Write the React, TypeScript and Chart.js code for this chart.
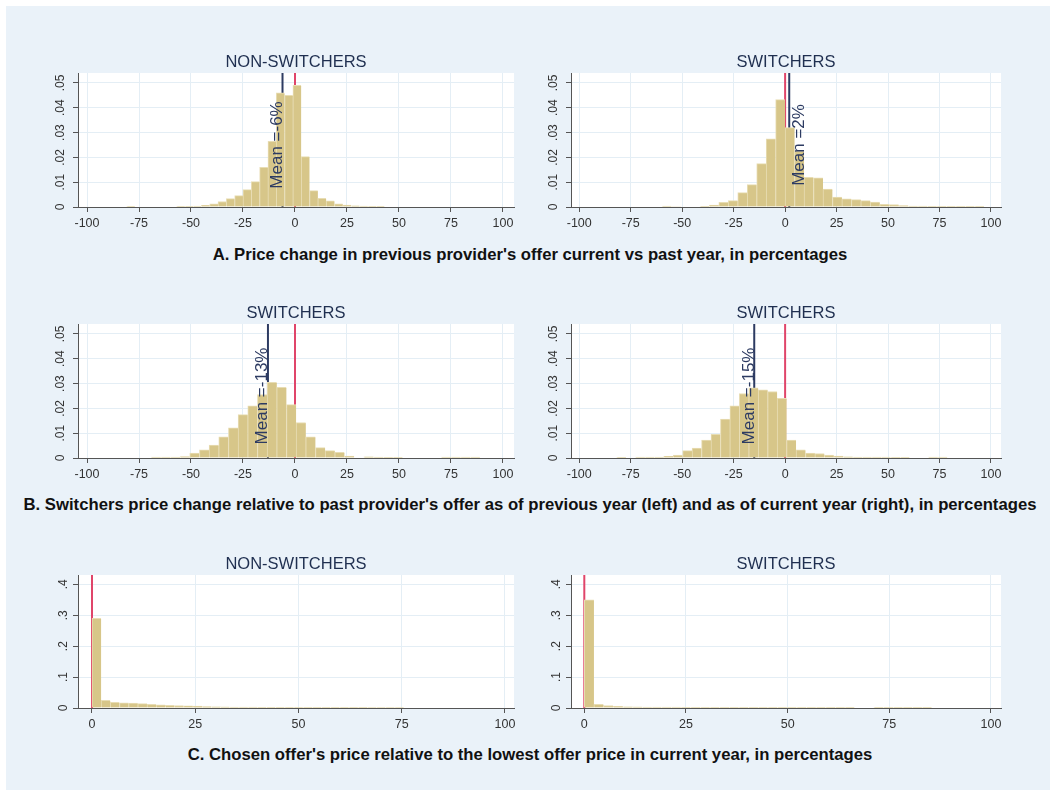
import React, { useEffect, useRef } from 'react';
import { Chart, registerables } from 'chart.js';

Chart.register(...registerables);

const FONT = '"Liberation Sans", Arial, Helvetica, sans-serif';

// ---------- tick values and labels ----------
const xTicksWide = [-100, -75, -50, -25, 0, 25, 50, 75, 100];
const xTicksPositive = [0, 25, 50, 75, 100];
const yTicksSmall = [0, 0.01, 0.02, 0.03, 0.04, 0.05];
const yTickLabelsSmall = ['0', '.01', '.02', '.03', '.04', '.05'];
const yTicksLarge = [0, 0.1, 0.2, 0.3, 0.4];
const yTickLabelsLarge = ['0', '.1', '.2', '.3', '.4'];

// ---------- titles and captions ----------
const panelTitles = ['NON-SWITCHERS', 'SWITCHERS', 'SWITCHERS', 'SWITCHERS', 'NON-SWITCHERS', 'SWITCHERS'];
const rowCaptions = [
  "A. Price change in previous provider's offer current vs past year, in percentages",
  "B. Switchers price change relative to past provider's offer as of previous year (left) and as of current year (right), in percentages",
  "C. Chosen offer's price relative to the lowest offer price in current year, in percentages",
];

// ---------- Panel A left: non-switchers ----------
const a1BinStart = -81;
const a1BinWidth = 4;
const a1Density = [
  0.0003, 0.0002, 0.0002, 0.0002, 0.0002, 0.0002, 0.0003, 0.0003, 0.0004, 0.0007,
  0.0013, 0.0022, 0.0034, 0.0046, 0.007, 0.0102, 0.016, 0.0265, 0.046, 0.045,
  0.049, 0.0203, 0.0066, 0.0035, 0.0025, 0.0013, 0.0008, 0.0005, 0.0004, 0.0003,
  0.0003, 0.0002, 0.0002, 0.0002, 0.0002, 0.0002, 0.0002, 0.0002, 0.0002, 0.0002,
  0.0002, 0.0002, 0.0002, 0.0002, 0.0002,
];
const a1Mean = -6;

// ---------- Panel A right: switchers ----------
const a2BinStart = -59.8;
const a2BinWidth = 4.6;
const a2Density = [
  0.0004, 0.0001, 0.0002, 0.0002, 0.0003, 0.0008, 0.0019, 0.0026, 0.0058, 0.009,
  0.0175, 0.0275, 0.0433, 0.032, 0.0225, 0.012, 0.0118, 0.0072, 0.004, 0.0033,
  0.003, 0.0026, 0.002, 0.0011, 0.001, 0.0006, 0.0004, 0.0004, 0.0003, 0.0003,
  0.0003, 0.0003, 0.0003, 0.0003,
];
const a2Mean = 2;

// ---------- Panel B left: switchers vs previous year ----------
const b1BinStart = -69.2;
const b1BinWidth = 4.65;
const b1Density = [
  0.0004, 0.0004, 0.0004, 0.0006, 0.002, 0.0033, 0.0052, 0.0085, 0.0122, 0.0175,
  0.021, 0.0256, 0.0305, 0.0285, 0.0215, 0.0143, 0.0085, 0.0042, 0.003, 0.0023,
  0.0008, 0.0002, 0.0005, 0.0004, 0.0003, 0.0003, 0.0002, 0.0002, 0.0002, 0,
  0.0004, 0.0004, 0.0004, 0.0004,
];
const b1Mean = -13;

// ---------- Panel B right: switchers vs current year ----------
const b2BinStart = -81.9;
const b2BinWidth = 4.59;
const b2Density = [
  0.0003, 0.0002, 0.0004, 0.0004, 0.0004, 0.0007, 0.0012, 0.003, 0.004, 0.0072,
  0.0095, 0.0157, 0.021, 0.026, 0.0283, 0.0275, 0.0268, 0.024, 0.0072, 0.0033,
  0.002, 0.0018, 0.0012, 0.0008, 0.0005, 0.0004, 0.0004, 0.0004, 0.0004, 0.0003,
  0.0003, 0.0002, 0, 0.0004, 0.0004,
];
const b2Mean = -15;

// ---------- Panel C left: non-switchers ----------
const c1BinStart = 0;
const c1BinWidth = 2.22;
const c1Density = [
  0.29, 0.025, 0.018, 0.017, 0.016, 0.014, 0.012, 0.01, 0.009, 0.008,
  0.007, 0.006, 0.0045, 0.004, 0.0035, 0.003, 0.003, 0.003, 0.0025, 0.0025,
  0.0025, 0.0025, 0.002, 0.002, 0.002, 0.002, 0.002, 0.002, 0.002, 0.002,
  0.0018, 0.0018, 0.0018, 0.0018, 0.0016, 0.0016, 0.0016, 0.0016, 0.0015, 0.0015,
  0.0015, 0.0015, 0.0015, 0.0015, 0.0015,
];

// ---------- Panel C right: switchers ----------
const c2BinStart = 0;
const c2BinWidth = 2.372;
const c2Density = [
  0.35, 0.012, 0.008, 0.005, 0.004, 0.0035, 0.003, 0.003, 0.003, 0.003,
  0.0025, 0.0025, 0.0025, 0.0025, 0.0025, 0.0025, 0.0025, 0.0025, 0.0025, 0.0025,
  0.0025, 0.0025, 0.0025, 0.0025, 0.0025, 0.0025, 0.0025, 0.0025, 0, 0,
  0.0025, 0.0025, 0.0025, 0.0025, 0.0025, 0.0025,
];

// ---------- style ----------
const PAGE_BG = '#eaf2f9';
const BAR_FILL = '#d7c689';
const BAR_EDGE = '#e8ddb4';
const GRID = '#e4eef5';
const AXIS = '#555555';
const TICK_TEXT = '#333333';
const TITLE_TEXT = '#1f2f50';
const MEAN_COLOR = '#2d3b62';
const ZERO_COLOR = '#e0456a';

type PanelDef = {
  title: string;
  start: number;
  width: number;
  heights: number[];
  mean: number | null;
  meanSide: 'left' | 'right';
  xMin: number;
  xMax: number;
  xTicks: number[];
  yMax: number;
  yTicks: number[];
  yLabels: string[];
  plotLeft: number;
  plotTop: number;
  plotW: number;
  plotH: number;
};

const Y_W = 30;
const X_H = 30;
const PAD_TOP = 22;
const PAD_RIGHT = 14;

const panels: PanelDef[] = [
  { title: panelTitles[0], start: a1BinStart, width: a1BinWidth, heights: a1Density, mean: a1Mean, meanSide: 'left',
    xMin: -104.33, xMax: 105.3, xTicks: xTicksWide, yMax: 0.054, yTicks: yTicksSmall, yLabels: yTickLabelsSmall,
    plotLeft: 78, plotTop: 73, plotW: 436, plotH: 134 },
  { title: panelTitles[1], start: a2BinStart, width: a2BinWidth, heights: a2Density, mean: a2Mean, meanSide: 'right',
    xMin: -104.0, xMax: 104.86, xTicks: xTicksWide, yMax: 0.054, yTicks: yTicksSmall, yLabels: yTickLabelsSmall,
    plotLeft: 571, plotTop: 73, plotW: 430, plotH: 134 },
  { title: panelTitles[2], start: b1BinStart, width: b1BinWidth, heights: b1Density, mean: b1Mean, meanSide: 'left',
    xMin: -104.33, xMax: 105.3, xTicks: xTicksWide, yMax: 0.054, yTicks: yTicksSmall, yLabels: yTickLabelsSmall,
    plotLeft: 78, plotTop: 324, plotW: 436, plotH: 134 },
  { title: panelTitles[3], start: b2BinStart, width: b2BinWidth, heights: b2Density, mean: b2Mean, meanSide: 'left',
    xMin: -104.0, xMax: 104.86, xTicks: xTicksWide, yMax: 0.054, yTicks: yTicksSmall, yLabels: yTickLabelsSmall,
    plotLeft: 571, plotTop: 324, plotW: 430, plotH: 134 },
  { title: panelTitles[4], start: c1BinStart, width: c1BinWidth, heights: c1Density, mean: null, meanSide: 'left',
    xMin: -3.39, xMax: 102.2, xTicks: xTicksPositive, yMax: 0.43, yTicks: yTicksLarge, yLabels: yTickLabelsLarge,
    plotLeft: 78, plotTop: 575, plotW: 436, plotH: 133 },
  { title: panelTitles[5], start: c2BinStart, width: c2BinWidth, heights: c2Density, mean: null, meanSide: 'left',
    xMin: -3.27, xMax: 102.46, xTicks: xTicksPositive, yMax: 0.43, yTicks: yTicksLarge, yLabels: yTickLabelsLarge,
    plotLeft: 571, plotTop: 575, plotW: 430, plotH: 133 },
];

const captionCenters = [255, 505, 755];

function HistPanel({ p }: { p: PanelDef }) {
  const ref = useRef<HTMLCanvasElement | null>(null);
  const cw = p.plotW + Y_W + PAD_RIGHT;
  const ch = p.plotH + PAD_TOP + X_H;

  useEffect(() => {
    if (!ref.current) return;
    const points = p.heights.map((h, i) => ({ x: p.start + (i + 0.5) * p.width, y: h }));

    const decor = {
      id: 'decor',
      beforeDraw(chart: any) {
        const { ctx, chartArea } = chart;
        ctx.save();
        ctx.fillStyle = '#ffffff';
        ctx.fillRect(chartArea.left, chartArea.top, chartArea.right - chartArea.left, chartArea.bottom - chartArea.top);
        ctx.restore();
      },
      beforeDatasetsDraw(chart: any) {
        const { ctx, chartArea, scales } = chart;
        ctx.save();
        ctx.lineWidth = 2;
        const drawV = (v: number, color: string) => {
          const px = scales.x.getPixelForValue(v);
          ctx.strokeStyle = color;
          ctx.beginPath();
          ctx.moveTo(px, chartArea.top);
          ctx.lineTo(px, chartArea.bottom);
          ctx.stroke();
        };
        drawV(0, ZERO_COLOR);
        if (p.mean !== null) drawV(p.mean, MEAN_COLOR);
        ctx.restore();
      },
      afterDatasetsDraw(chart: any) {
        if (p.mean === null) return;
        const { ctx, scales } = chart;
        const px = scales.x.getPixelForValue(p.mean);
        const py = scales.y.getPixelForValue(0.025);
        ctx.save();
        ctx.font = `17px ${FONT}`;
        ctx.fillStyle = MEAN_COLOR;
        ctx.textAlign = 'center';
        ctx.textBaseline = 'alphabetic';
        const ax = p.meanSide === 'left' ? px - 0.5 : px + 15;
        ctx.translate(ax, py);
        ctx.rotate(-Math.PI / 2);
        ctx.fillText(`Mean =${p.mean}%`, 0, 0);
        ctx.restore();
      },
      afterDraw(chart: any) {
        const { ctx, chartArea } = chart;
        ctx.save();
        ctx.font = `16.5px ${FONT}`;
        ctx.fillStyle = TITLE_TEXT;
        ctx.textAlign = 'center';
        ctx.textBaseline = 'middle';
        ctx.fillText(p.title, (chartArea.left + chartArea.right) / 2, chartArea.top - 11);
        ctx.restore();
      },
    };

    const chart = new Chart(ref.current, {
      type: 'bar',
      data: {
        datasets: [
          {
            data: points as any,
            backgroundColor: BAR_FILL,
            borderColor: BAR_EDGE,
            borderWidth: { left: 1, top: 1, right: 0, bottom: 0 } as any,
            borderSkipped: 'start',
            barPercentage: 1,
            categoryPercentage: 1,
          },
        ],
      },
      options: {
        animation: false,
        responsive: false,
        maintainAspectRatio: false,
        events: [],
        layout: { padding: { top: PAD_TOP, right: PAD_RIGHT, left: 0, bottom: 0 } },
        plugins: {
          legend: { display: false },
          tooltip: { enabled: false },
          title: { display: false },
        },
        scales: {
          x: {
            type: 'linear',
            offset: false,
            min: p.xMin,
            max: p.xMax,
            afterBuildTicks: (s: any) => {
              s.ticks = p.xTicks.map((v) => ({ value: v }));
            },
            afterFit: (s: any) => {
              s.height = X_H;
            },
            ticks: {
              autoSkip: false,
              maxRotation: 0,
              minRotation: 0,
              padding: 4,
              color: TICK_TEXT,
              font: { family: FONT, size: 12.5 },
              callback: (v: any) => String(v),
            },
            grid: { color: GRID, lineWidth: 1, tickColor: AXIS, tickLength: 5, drawTicks: true, offset: false },
            border: { color: AXIS, width: 1, z: 1 } as any,
          },
          y: {
            type: 'linear',
            min: 0,
            max: p.yMax,
            afterBuildTicks: (s: any) => {
              s.ticks = p.yTicks.map((v) => ({ value: v }));
            },
            afterFit: (s: any) => {
              s.width = Y_W;
            },
            ticks: {
              minRotation: 90,
              maxRotation: 90,
              crossAlign: 'center',
              padding: 4,
              color: TICK_TEXT,
              font: { family: FONT, size: 12 },
              callback: (_v: any, i: number) => p.yLabels[i],
            },
            grid: { color: GRID, lineWidth: 1, tickColor: AXIS, tickLength: 5, drawTicks: true },
            border: { color: AXIS, width: 1, z: 1 } as any,
          },
        },
      } as any,
      plugins: [decor],
    });
    return () => chart.destroy();
  }, []);

  return (
    <canvas
      ref={ref}
      width={cw}
      height={ch}
      style={{ position: 'absolute', left: p.plotLeft - Y_W, top: p.plotTop - PAD_TOP, width: cw, height: ch }}
    />
  );
}

export default function App() {
  return (
    <div style={{ position: 'absolute', left: 0, top: 0, width: 1050, height: 790, background: '#ffffff', overflow: 'hidden' }}>
      <div style={{ position: 'absolute', left: 6, top: 6, width: 1044, height: 784, background: PAGE_BG }} />
      {panels.map((p, i) => (
        <HistPanel key={i} p={p} />
      ))}
      {rowCaptions.map((t, i) => (
        <div
          key={i}
          style={{
            position: 'absolute',
            left: 0,
            width: 1060,
            top: captionCenters[i] - 10,
            height: 20,
            lineHeight: '20px',
            textAlign: 'center',
            whiteSpace: 'nowrap',
            fontFamily: FONT,
            fontWeight: 'bold',
            fontSize: 16.7,
            color: '#111111',
          }}
        >
          {t}
        </div>
      ))}
    </div>
  );
}
